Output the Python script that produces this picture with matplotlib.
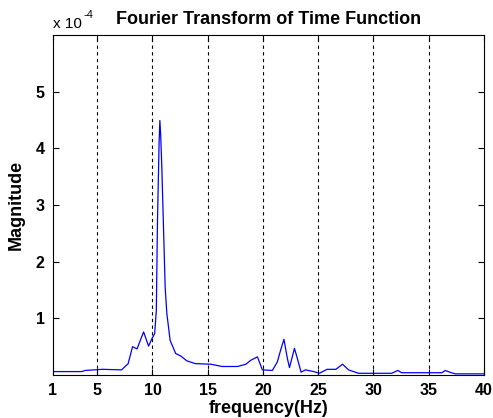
import matplotlib
matplotlib.use("Agg")
import matplotlib.pyplot as plt

# spectrum (magnitude in units of 1e-4)
freq_hz = [1.0, 3.6, 3.9, 5.5, 7.2, 7.8, 8.2, 8.6, 9.2, 9.65, 9.95, 10.2,
           10.35, 10.45, 10.6, 10.67, 10.75, 10.85, 11.0, 11.15, 11.3, 11.6,
           12.1, 12.6, 13.1, 13.9, 15.3, 16.3, 17.7, 18.45, 18.9, 19.5, 19.95,
           20.85, 21.3, 21.6, 21.9, 22.2, 22.4, 22.85, 23.1, 23.45, 23.85,
           24.6, 25.1, 25.8, 26.6, 27.2, 27.75, 28.65, 31.65, 32.2, 32.55,
           36.2, 36.5, 36.9, 37.4, 37.75, 40.0]
magnitude = [0.06, 0.06, 0.08, 0.10, 0.09, 0.20, 0.50, 0.46, 0.76, 0.51, 0.64, 0.73,
             1.14, 2.66, 4.09, 4.49, 4.21, 3.65, 2.60, 1.55, 1.09, 0.61,
             0.38, 0.33, 0.25, 0.20, 0.19, 0.15, 0.15, 0.19, 0.26, 0.32, 0.09,
             0.08, 0.23, 0.44, 0.63, 0.30, 0.13, 0.47, 0.30, 0.05, 0.09,
             0.06, 0.03, 0.10, 0.10, 0.19, 0.09, 0.03, 0.03, 0.08, 0.04,
             0.04, 0.08, 0.05, 0.02, 0.02, 0.02]
x_ticks = [1, 5, 10, 15, 20, 25, 30, 35, 40]
y_ticks = [1, 2, 3, 4, 5]

plt.rcParams["font.family"] = ["Liberation Sans", "DejaVu Sans"]

fig = plt.figure(figsize=(4.93, 4.18), dpi=100)
ax = fig.add_axes([0.1075, 0.1029, 0.8742, 0.8134])

ax.plot(freq_hz, magnitude, color="#0000ff", lw=0.9)

ax.set_xlim(1, 40)
ax.set_ylim(0, 6)
ax.set_xticks(x_ticks)
ax.set_yticks(y_ticks)
ax.tick_params(direction="in", top=True, right=True, length=4, width=0.8,
               labelsize=11.5, pad=6)
for lab in ax.get_xticklabels() + ax.get_yticklabels():
    lab.set_fontweight("bold")

# vertical dashed grid only
for x in x_ticks[1:-1]:
    ax.axvline(x, color="black", ls=(0, (3, 3)), lw=0.8)

for s in ax.spines.values():
    s.set_linewidth(0.8)

ax.set_title("Fourier Transform of Time Function", fontsize=13,
             fontweight="bold", pad=8)
ax.set_xlabel("frequency(Hz)", fontsize=13, fontweight="bold", labelpad=1)
ax.set_ylabel("Magnitude", fontsize=13, fontweight="bold", labelpad=8)

# exponent label in the MATLAB style
ax.text(0.0, 1.012, "x 10", transform=ax.transAxes, fontsize=11,
        ha="left", va="bottom")
ax.text(0.071, 1.045, "-4", transform=ax.transAxes, fontsize=8,
        ha="left", va="bottom")

fig.savefig("out.png", dpi=100)
